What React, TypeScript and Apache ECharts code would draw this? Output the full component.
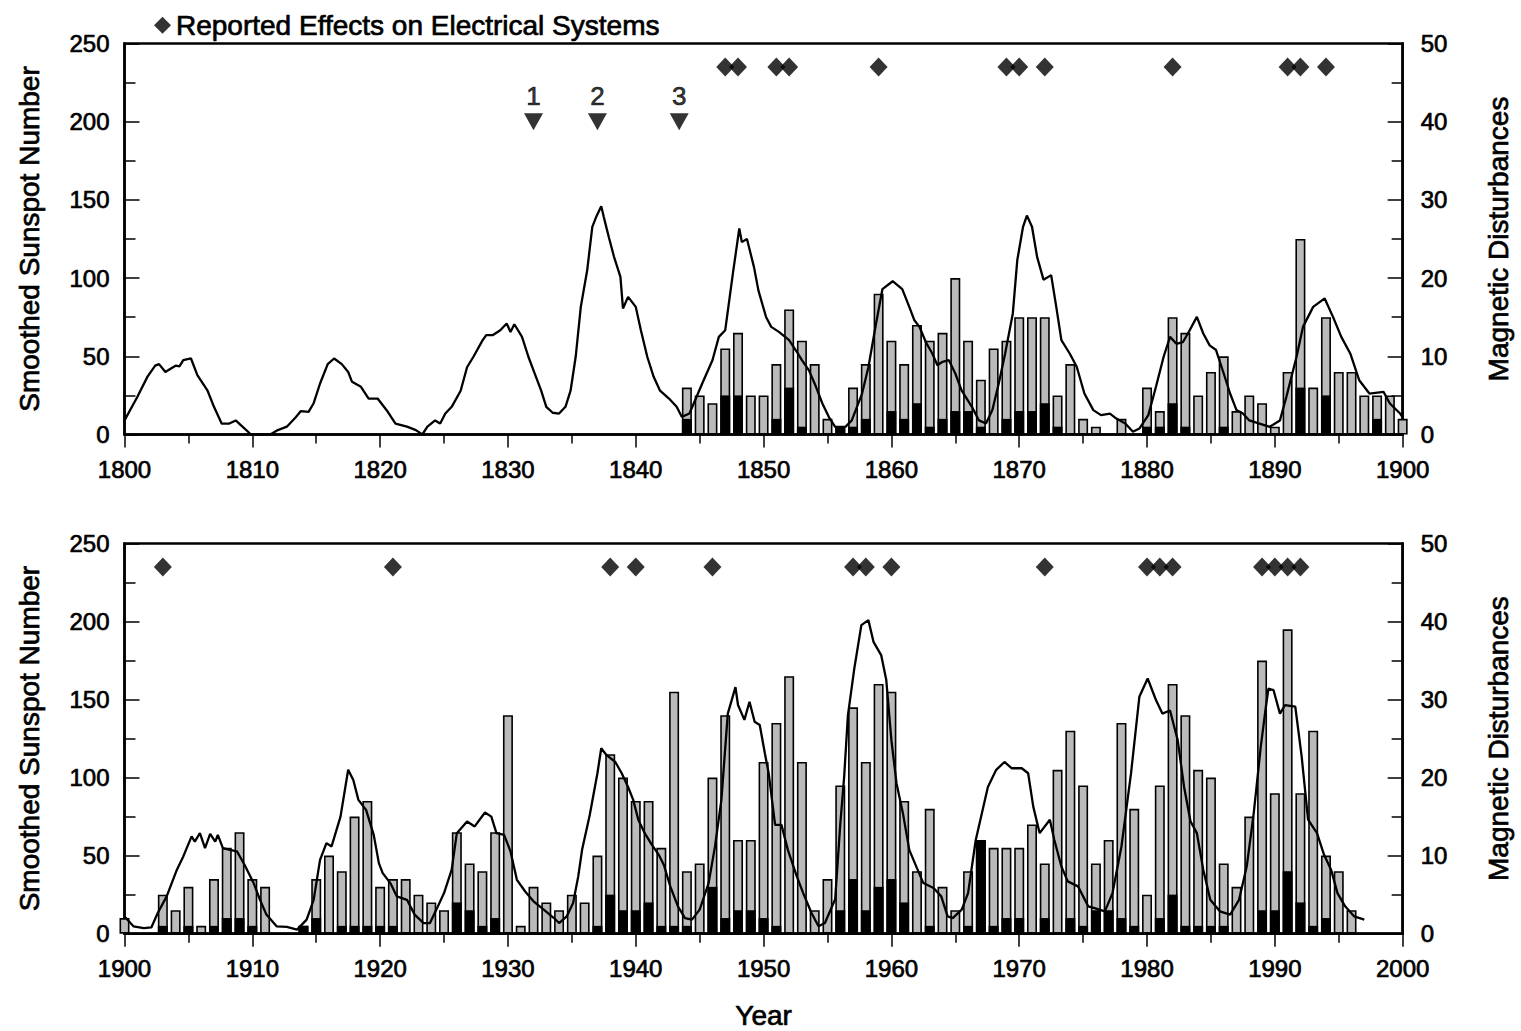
import React, { useEffect, useRef } from 'react';
import * as echarts from 'echarts';

const FONT = '"Liberation Sans", Arial, Helvetica, sans-serif';

// Smoothed sunspot number, 1800-1900 (year, value)
const sunspotTop: [number, number][] = [
  [1800.0, 9], [1801.0, 24], [1801.8, 37], [1802.4, 44], [1802.7, 45], [1803.2, 40], [1803.6, 42],
  [1804.0, 44], [1804.3, 43.5], [1804.6, 47.5], [1805.2, 48.6], [1805.7, 38], [1806.5, 28],
  [1807.0, 17.7], [1807.6, 7], [1808.2, 7], [1808.7, 9], [1809.1, 6], [1809.9, 0], [1811.4, 0],
  [1812.0, 2.8], [1812.7, 5], [1813.4, 11], [1813.8, 15], [1814.4, 14.5], [1814.8, 20],
  [1815.3, 32.6], [1815.9, 45], [1816.4, 48.6], [1817.0, 45], [1817.5, 40], [1817.8, 33.7],
  [1818.5, 30.5], [1819.1, 23], [1819.8, 23], [1820.6, 14.5], [1821.2, 7], [1822.1, 5],
  [1822.8, 2.8], [1823.3, 0], [1823.7, 5], [1824.3, 9], [1824.7, 7], [1825.1, 13.4],
  [1825.6, 17.7], [1826.3, 28], [1826.8, 43], [1827.3, 49.7], [1828.0, 60], [1828.3, 63.5],
  [1828.8, 63.5], [1829.4, 66.7], [1829.9, 71], [1830.2, 65.6], [1830.5, 70.5], [1831.1, 62.4],
  [1831.6, 49.7], [1832.0, 41], [1832.6, 28], [1833.0, 17.7], [1833.5, 13.9], [1834.0, 13.4],
  [1834.5, 17.7], [1834.9, 28], [1835.3, 49.7], [1835.7, 81.6], [1836.2, 105], [1836.6, 132.8],
  [1836.9, 139], [1837.3, 146], [1837.5, 139], [1837.9, 126], [1838.3, 113.6], [1838.8, 100.8],
  [1839.0, 80.6], [1839.4, 88], [1840.0, 81.6], [1840.4, 66.7], [1840.9, 49.7], [1841.4, 36.9],
  [1841.9, 28], [1842.6, 23], [1843.2, 17.7], [1843.6, 11.3], [1844.2, 13.4], [1844.7, 23],
  [1845.2, 32.6], [1846.0, 47.5], [1846.5, 62.4], [1847.0, 66.7], [1847.6, 103], [1848.1, 131.7],
  [1848.3, 123], [1848.7, 125], [1849.25, 107], [1849.6, 92], [1850.2, 75], [1850.6, 68.8],
  [1851.2, 65.6], [1852.0, 60.3], [1852.6, 52.9], [1853.0, 47.5], [1853.55, 41], [1854.1, 30.5],
  [1854.6, 19.8], [1855.1, 11.3], [1855.6, 4.9], [1856.4, 4.9], [1856.9, 9], [1857.7, 26],
  [1858.2, 43], [1858.8, 71], [1859.3, 93], [1860.1, 98], [1860.85, 93], [1861.4, 81.6],
  [1861.8, 73], [1862.2, 68.8], [1862.7, 59], [1863.2, 51.8], [1863.6, 44.3], [1864.0, 46.5],
  [1864.5, 47.5], [1865.0, 39], [1865.5, 28], [1866.3, 17.7], [1866.85, 9], [1867.4, 7],
  [1867.9, 15.6], [1868.4, 32.6], [1868.9, 51.8], [1869.5, 77.4], [1869.85, 111.5],
  [1870.3, 132.8], [1870.6, 140], [1871.0, 132.8], [1871.4, 113.6], [1871.9, 99], [1872.5, 101.9],
  [1872.9, 81.6], [1873.3, 60.3], [1873.95, 51.8], [1874.5, 43.3], [1875.1, 26.2], [1875.8, 15.6],
  [1876.4, 12.4], [1877.1, 13.4], [1877.6, 10.2], [1878.3, 7], [1878.9, 1.7], [1879.4, 3.8],
  [1880.1, 12.4], [1880.7, 30.5], [1881.3, 49.7], [1881.8, 62.4], [1882.3, 58], [1882.8, 59],
  [1883.2, 64.6], [1883.9, 75.2], [1884.4, 64.6], [1884.9, 57], [1885.4, 54], [1886.0, 39],
  [1886.5, 26.2], [1887.0, 15.6], [1887.5, 13.4], [1888.0, 9], [1888.8, 7], [1889.6, 4.9],
  [1890.4, 9], [1890.9, 24], [1891.7, 49.7], [1892.2, 68.8], [1893.0, 81.6], [1893.9, 87],
  [1894.55, 75.2], [1895.2, 62.4], [1895.9, 51.8], [1896.6, 34.7], [1897.4, 26.2], [1898.5, 27.3],
  [1899.0, 19.8], [1899.8, 13.4], [1900.0, 11],
];

// Smoothed sunspot number, 1900-2000 (year, value)
const sunspotBottom: [number, number][] = [
  [1900.0, 11], [1900.7, 4.7], [1901.5, 3.6], [1902.1, 4], [1902.6, 13.2], [1903.3, 23.9],
  [1904.1, 41], [1904.6, 49.5], [1905.25, 62.3], [1905.5, 59], [1905.9, 64.4], [1906.3, 54.8],
  [1906.7, 64], [1907.1, 59], [1907.3, 63.3], [1907.7, 54.8], [1908.25, 53.7], [1908.8, 52.7],
  [1909.4, 44], [1910.1, 32.4], [1910.6, 21.7], [1911.1, 12.2], [1911.9, 4.7], [1912.7, 4.3],
  [1913.5, 2.6], [1914.25, 9], [1914.8, 21.7], [1915.3, 47.3], [1915.8, 58], [1916.2, 55.9],
  [1916.9, 75], [1917.5, 105], [1917.9, 98.5], [1918.3, 85.7], [1918.9, 79.3], [1919.5, 63.3],
  [1919.9, 45.2], [1920.2, 38.8], [1920.8, 32.4], [1921.3, 23.9], [1922.1, 21.7], [1922.7, 12.2],
  [1923.4, 6.8], [1923.9, 6.8], [1924.4, 15.4], [1925.0, 26], [1925.6, 41], [1926.0, 64.4],
  [1926.8, 71.9], [1927.4, 68.7], [1928.2, 77.6], [1928.7, 75], [1929.1, 64.4], [1929.7, 63.3],
  [1930.2, 52.7], [1930.7, 34.5], [1931.35, 27], [1932.0, 20.7], [1932.8, 15.4], [1933.6, 10],
  [1934.0, 6.8], [1934.6, 11.1], [1935.1, 19.6], [1935.5, 36.7], [1935.8, 53.7], [1936.4, 76],
  [1937.0, 102.8], [1937.3, 118.8], [1937.7, 114.5], [1938.4, 110], [1938.9, 102.8], [1939.4, 94],
  [1939.8, 85.7], [1940.2, 73], [1940.7, 64.4], [1941.25, 57], [1941.8, 50.5], [1942.2, 44],
  [1942.7, 30.3], [1943.3, 17.5], [1943.85, 10], [1944.4, 9], [1945.0, 15.4], [1945.7, 32.4],
  [1946.2, 55.9], [1946.7, 85.7], [1947.2, 141], [1947.8, 158], [1948.0, 146.5], [1948.5, 137],
  [1948.9, 148.6], [1949.3, 135.8], [1949.7, 133.7], [1950.1, 115.6], [1950.4, 102.8],
  [1950.9, 69.7], [1951.4, 69.7], [1951.9, 53.7], [1952.6, 36.7], [1953.1, 26], [1953.75, 13.2],
  [1954.3, 4.7], [1954.8, 6.8], [1955.6, 22], [1956.0, 70], [1956.3, 100], [1956.6, 140],
  [1957.1, 170], [1957.65, 197.7], [1958.2, 200.9], [1958.6, 187], [1959.2, 178.5],
  [1959.6, 162.5], [1960.0, 124], [1960.4, 96.4], [1960.9, 77.2], [1961.4, 53.7], [1962.0, 42],
  [1962.5, 32.4], [1963.3, 29.2], [1963.9, 23.9], [1964.4, 11.1], [1964.8, 10], [1965.5, 15.4],
  [1966.0, 26], [1966.6, 60], [1967.55, 94], [1968.2, 105], [1968.85, 110], [1969.4, 106],
  [1970.2, 106], [1970.7, 102.8], [1971.1, 81.4], [1971.6, 64.4], [1972.4, 73], [1972.75, 60],
  [1973.3, 43], [1973.8, 33.5], [1974.6, 30.3], [1975.4, 17.5], [1975.9, 16.4], [1976.7, 14.3],
  [1977.3, 26], [1978.0, 55.9], [1978.75, 102.8], [1979.4, 151.8], [1980.05, 163.5],
  [1980.7, 149.7], [1981.2, 141], [1981.8, 143], [1982.4, 124], [1982.9, 94], [1983.4, 72],
  [1983.9, 64.4], [1984.4, 41], [1984.95, 21.7], [1985.7, 14.3], [1986.5, 12.2], [1987.2, 21.7],
  [1987.8, 43], [1988.35, 77.2], [1988.9, 119.8], [1989.3, 145.4], [1989.5, 157], [1989.9, 156],
  [1990.4, 141], [1990.8, 146.5], [1991.6, 145.4], [1992.1, 113.4], [1992.6, 73], [1993.3, 64.4],
  [1993.85, 50.5], [1994.4, 41], [1994.9, 26], [1995.5, 17.5], [1996.2, 11.1], [1997.0, 9],
];

// Magnetic disturbances per year, 1844-1900
const disturbYearsTop = [
  1844, 1845, 1846, 1847, 1848, 1849, 1850, 1851, 1852, 1853, 1854, 1855, 1856, 1857, 1858, 1859,
  1860, 1861, 1862, 1863, 1864, 1865, 1866, 1867, 1868, 1869, 1870, 1871, 1872, 1873, 1874, 1875,
  1876, 1877, 1878, 1879, 1880, 1881, 1882, 1883, 1884, 1885, 1886, 1887, 1888, 1889, 1890, 1891,
  1892, 1893, 1894, 1895, 1896, 1897, 1898, 1899, 1900,
];
const disturbTotalTop = [
  6, 5, 4, 11, 13, 5, 5, 9, 16, 12, 9, 2, 1, 6, 9, 18,
  12, 9, 14, 12, 13, 20, 12, 7, 11, 12, 15, 15, 15, 5, 9, 2,
  1, 0, 2, 0, 6, 3, 15, 13, 5, 8, 10, 3, 5, 4, 1, 8,
  25, 6, 15, 8, 8, 5, 5, 5, 2,
];
const disturbSevereTop = [
  2, 0, 0, 5, 5, 0, 0, 2, 6, 1, 0, 0, 1, 1, 2, 0,
  3, 2, 4, 1, 2, 3, 3, 1, 0, 2, 3, 3, 4, 1, 0, 0,
  0, 0, 0, 0, 1, 1, 4, 1, 0, 0, 1, 0, 0, 0, 0, 0,
  6, 0, 5, 0, 0, 0, 2, 0, 0,
];

// Magnetic disturbances per year, 1900-1996
const disturbYearsBottom = [
  1900, 1901, 1902, 1903, 1904, 1905, 1906, 1907, 1908, 1909,
  1910, 1911, 1912, 1913, 1914, 1915, 1916, 1917, 1918, 1919,
  1920, 1921, 1922, 1923, 1924, 1925, 1926, 1927, 1928, 1929,
  1930, 1931, 1932, 1933, 1934, 1935, 1936, 1937, 1938, 1939,
  1940, 1941, 1942, 1943, 1944, 1945, 1946, 1947, 1948, 1949,
  1950, 1951, 1952, 1953, 1954, 1955, 1956, 1957, 1958, 1959,
  1960, 1961, 1962, 1963, 1964, 1965, 1966, 1967, 1968, 1969,
  1970, 1971, 1972, 1973, 1974, 1975, 1976, 1977, 1978, 1979,
  1980, 1981, 1982, 1983, 1984, 1985, 1986, 1987, 1988, 1989,
  1990, 1991, 1992, 1993, 1994, 1995, 1996,
];
const disturbTotalBottom = [
  2, 0, 0, 5, 3, 6, 1, 7, 11, 13,
  7, 6, 0, 0, 1, 7, 10, 8, 15, 17,
  6, 7, 7, 5, 4, 3, 13, 9, 8, 13,
  28, 1, 6, 4, 3, 5, 4, 10, 23, 20,
  17, 17, 11, 31, 8, 9, 20, 28, 12, 12,
  22, 27, 33, 22, 3, 7, 19, 29, 22, 32,
  31, 17, 8, 16, 6, 3, 8, 12, 11, 11,
  11, 14, 9, 21, 26, 19, 9, 12, 27, 16,
  5, 19, 32, 28, 21, 20, 9, 6, 15, 35,
  18, 39, 18, 26, 10, 8, 3,
];
const disturbSevereBottom = [
  0, 0, 0, 1, 0, 1, 0, 1, 2, 2,
  1, 0, 0, 0, 1, 2, 0, 1, 1, 1,
  1, 1, 0, 0, 0, 0, 4, 3, 1, 2,
  0, 0, 0, 0, 0, 0, 0, 1, 5, 3,
  3, 4, 1, 1, 1, 0, 6, 2, 3, 3,
  2, 1, 0, 0, 0, 0, 3, 7, 3, 6,
  7, 4, 0, 1, 0, 0, 1, 12, 1, 2,
  2, 0, 2, 0, 2, 1, 3, 3, 2, 1,
  0, 2, 5, 1, 1, 1, 1, 0, 0, 3,
  3, 8, 4, 1, 2, 0, 0,
];

// Years with reported effects on electrical systems
const effectYearsTop = [1847, 1848, 1851, 1852, 1859, 1869, 1870, 1872, 1882, 1891, 1892, 1894];
const effectYearsBottom = [1903, 1921, 1938, 1940, 1946, 1957, 1958, 1960, 1972, 1980, 1981, 1982, 1989, 1990, 1991, 1992];
const effectLevel = 47;

// Numbered markers in the upper panel
const markerYears = [1832, 1837, 1843.4];
const markerLabels = ['1', '2', '3'];
const markerLevel = 200;

const EFFECT_NAME = 'Reported Effects on Electrical Systems';

const toBars = (years: number[], vals: number[]) =>
  years.map((y, i) => [y, vals[i]]).filter((d) => d[1] > 0);

export default function App() {
  const ref = useRef<HTMLDivElement>(null);

  useEffect(() => {
    if (!ref.current) return;
    const chart = echarts.init(ref.current, undefined, { renderer: 'svg' });

    const heavy = { textBorderColor: '#000', textBorderWidth: 0.7 };
    const labelStyle = { color: '#000', fontFamily: FONT, fontSize: 24, ...heavy };
    const titleStyle = { color: '#000', fontFamily: FONT, fontSize: 28, ...heavy };
    const lineW = 2.5;

    const xAxisBase = (min: number, max: number, gridIndex: number, withName: boolean) => ({
      type: 'value',
      gridIndex,
      min,
      max,
      interval: 10,
      name: withName ? 'Year' : '',
      nameLocation: 'middle',
      nameGap: 68,
      nameTextStyle: titleStyle,
      axisLine: { show: true, onZero: false, lineStyle: { color: '#000', width: lineW } },
      axisTick: { show: true, inside: false, length: 13, lineStyle: { color: '#000', width: 1.5 } },
      minorTick: { show: true, splitNumber: 2, length: 9, lineStyle: { color: '#000', width: 1.5 } },
      axisLabel: { ...labelStyle, margin: 23, formatter: (v: number) => String(v) },
      splitLine: { show: false },
    });

    const leftAxis = (gridIndex: number) => ({
      type: 'value',
      gridIndex,
      position: 'left',
      min: 0,
      max: 250,
      interval: 50,
      name: 'Smoothed Sunspot Number',
      nameLocation: 'middle',
      nameRotate: 90,
      nameGap: 81,
      nameTextStyle: titleStyle,
      axisLine: { show: true, onZero: false, lineStyle: { color: '#000', width: lineW } },
      axisTick: { show: true, inside: true, length: 15, lineStyle: { color: '#000', width: 1.5 } },
      minorTick: { show: true, splitNumber: 2, length: 11, lineStyle: { color: '#000', width: 1.5 } },
      axisLabel: { ...labelStyle, margin: 15 },
      splitLine: { show: false },
    });

    const rightAxis = (gridIndex: number) => ({
      type: 'value',
      gridIndex,
      position: 'right',
      min: 0,
      max: 50,
      interval: 10,
      name: 'Magnetic Disturbances',
      nameLocation: 'middle',
      nameRotate: 90,
      nameGap: 82,
      nameTextStyle: titleStyle,
      axisLine: { show: true, onZero: false, lineStyle: { color: '#000', width: lineW } },
      axisTick: { show: true, inside: true, length: 15, lineStyle: { color: '#000', width: 1.5 } },
      minorTick: { show: true, splitNumber: 2, length: 11, lineStyle: { color: '#000', width: 1.5 } },
      axisLabel: { ...labelStyle, margin: 18 },
      splitLine: { show: false },
    });

    const grayBar = (xi: number, yi: number, data: number[][]) => ({
      type: 'bar',
      xAxisIndex: xi,
      yAxisIndex: yi,
      data,
      barWidth: 10,
      barGap: '-100%',
      itemStyle: { color: '#bababa', borderColor: '#000', borderWidth: 1.6 },
      z: 2,
    });
    const blackBar = (xi: number, yi: number, data: number[][]) => ({
      type: 'bar',
      xAxisIndex: xi,
      yAxisIndex: yi,
      data,
      barWidth: 10,
      barGap: '-100%',
      itemStyle: { color: '#000' },
      z: 3,
    });
    const sunLine = (xi: number, yi: number, data: number[][]) => ({
      type: 'line',
      xAxisIndex: xi,
      yAxisIndex: yi,
      data,
      showSymbol: false,
      symbol: 'none',
      lineStyle: { color: '#000', width: 2.3 },
      z: 4,
    });
    const effects = (xi: number, yi: number, years: number[]) => ({
      type: 'scatter',
      name: EFFECT_NAME,
      xAxisIndex: xi,
      yAxisIndex: yi,
      data: years.map((y) => [y, effectLevel]),
      symbol: 'diamond',
      symbolSize: [18, 19],
      itemStyle: { color: '#000' },
      z: 5,
    });

    chart.setOption({
      animation: false,
      backgroundColor: '#fff',
      textStyle: { fontFamily: FONT },
      legend: {
        data: [EFFECT_NAME],
        left: 149,
        top: 6,
        icon: 'diamond',
        itemWidth: 17,
        itemHeight: 17,
        selectedMode: false,
        textStyle: titleStyle,
      },
      grid: [
        { left: 124.5, top: 43.5, width: 1278.5, height: 391, show: true, borderColor: '#000', borderWidth: 2.5, backgroundColor: 'transparent' },
        { left: 124.5, top: 543.5, width: 1278.5, height: 390.5, show: true, borderColor: '#000', borderWidth: 2.5, backgroundColor: 'transparent' },
      ],
      xAxis: [xAxisBase(1800, 1900, 0, false), xAxisBase(1900, 2000, 1, true)],
      yAxis: [leftAxis(0), rightAxis(0), leftAxis(1), rightAxis(1)],
      series: [
        grayBar(0, 1, toBars(disturbYearsTop, disturbTotalTop)),
        blackBar(0, 1, toBars(disturbYearsTop, disturbSevereTop)),
        sunLine(0, 0, sunspotTop),
        effects(0, 1, effectYearsTop),
        {
          type: 'scatter',
          xAxisIndex: 0,
          yAxisIndex: 0,
          data: markerYears.map((y) => [y, markerLevel]),
          symbol: 'triangle',
          symbolRotate: 180,
          symbolSize: [19, 17],
          itemStyle: { color: '#000' },
          label: {
            show: true,
            position: 'top',
            distance: 4,
            color: '#000',
            fontFamily: FONT,
            fontSize: 26,
            ...heavy,
            formatter: (p: any) => markerLabels[p.dataIndex],
          },
          z: 5,
        },
        grayBar(1, 3, toBars(disturbYearsBottom, disturbTotalBottom)),
        blackBar(1, 3, toBars(disturbYearsBottom, disturbSevereBottom)),
        sunLine(1, 2, sunspotBottom),
        effects(1, 3, effectYearsBottom),
      ],
    });

    return () => chart.dispose();
  }, []);

  return (
    <div
      ref={ref}
      style={{ position: 'fixed', left: 0, top: 0, width: 1521, height: 1031, background: '#fff' }}
    />
  );
}
